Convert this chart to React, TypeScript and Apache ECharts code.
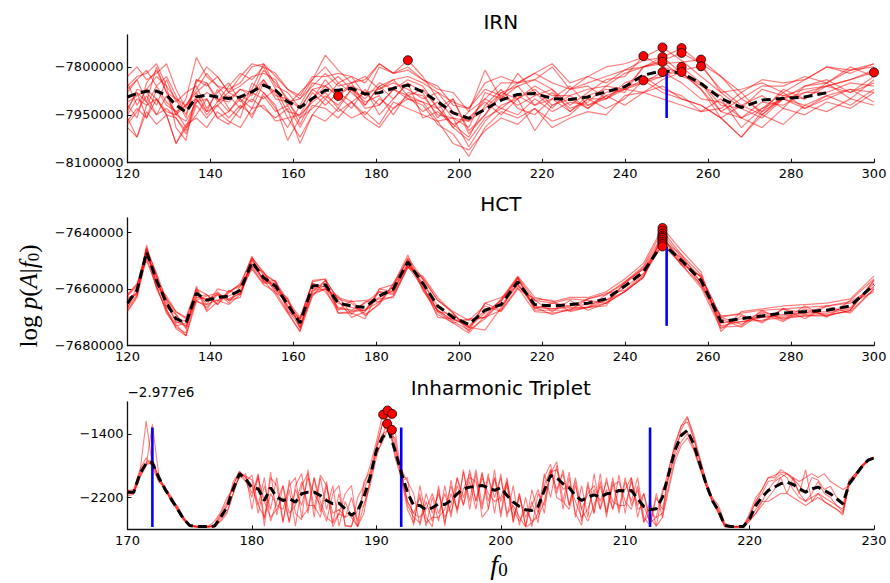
import React, { useEffect, useRef } from 'react';
import * as echarts from 'echarts';

// ---------- Shared f0 grid for IRN and HCT panels ----------
const F0 = [120, 122.3, 124.6, 127, 129.4, 131.7, 134.1, 136.6, 139.1, 141.7,
  144.4, 147.2, 150, 152.8, 155.7, 158.6, 161.6, 164.6, 167.7, 170.8,
  174, 177.3, 180.7, 184.1, 187.6, 191.2, 194.8, 198.5, 202.3, 206.2,
  210.1, 214.1, 218.2, 222.4, 226.7, 231, 235.4, 239.9, 244.4, 249,
  253.6, 258.3, 263.1, 268, 273, 278.1, 283.3, 288.6, 294.3, 300];

// ---------- IRN (values in thousands) ----------
const IRN_MEAN = [-7894, -7883, -7876, -7876, -7888, -7920, -7941, -7894, -7888, -7894,
  -7899, -7894, -7878, -7857, -7873, -7909, -7927, -7899, -7873, -7873,
  -7867, -7885, -7881, -7867, -7857, -7878, -7909, -7944, -7961, -7933,
  -7904, -7886, -7883, -7899, -7902, -7894, -7878, -7862, -7826, -7812,
  -7819, -7852, -7899, -7927, -7904, -7899, -7894, -7881, null, null];
const IRN_1 = [-7850, -7920, -7870, -7830, -7860, -7990, -8030, -7880, -7940, -7870,
  -7930, -7960, -7850, -7880, -7930, -7990, -7920, -7850, -7860, -7891,
  -7930, -7870, -7950, -7900, -7850, -7960, -7940, -7980, -8020, -7920,
  -7870, -7930, -7950, -7900, -7860, -7920, -7890, -7920, -7880, -7900,
  -7920, -7940, -7900, -7990, -7930, -7880, -7930, -7900, -7870, -7910];
const IRN_2 = [-7920, -7960, -7850, -7810, -7880, -7900, -7960, -7840, -7850, -7910,
  -7860, -7820, -7840, -7800, -7870, -7920, -7880, -7840, -7800, -7850,
  -7830, -7890, -7800, -7820, -7779, -7830, -7900, -7960, -7990, -7880,
  -7900, -7820, -7880, -7930, -7870, -7860, -7900, -7850, -7830, -7870,
  -7890, -7940, -7930, -7880, -7950, -7900, -7860, -7840, -7880, -7830];
const IRN_3 = [-7880, -7840, -7910, -7800, -7880, -7950, -7900, -7770, -7830, -7860,
  -7900, -7870, -7890, -7810, -7850, -7900, -7980, -7900, -7860, -7830,
  -7870, -7900, -7850, -7870, -7840, -7860, -7930, -7900, -8000, -7950,
  -7880, -7860, -7840, -7870, -7920, -7880, -7840, -7830, -7766, -7800,
  -7820, -7870, -7960, -7920, -7890, -7930, -7860, -7850, -7800, -7830];
const IRN_4 = [-7960, -8020, -7920, -7900, -7950, -8040, -7990, -7950, -7900, -7960,
  -7980, -7930, -7900, -7930, -7960, -7930, -8040, -7950, -7900, -7940,
  -7910, -7960, -7990, -7930, -7900, -7920, -7980, -8010, -8080, -7990,
  -7940, -7960, -7930, -7970, -7950, -7900, -7930, -7900, -7842, -7880,
  -7900, -7920, -7960, -8020, -7950, -7980, -7920, -7940, -7900, -7920];
const IRN_5 = [-7830, -7800, -7840, -7820, -7790, -7870, -7930, -7850, -7800, -7830,
  -7880, -7830, -7790, -7800, -7820, -7870, -7900, -7840, -7763, -7810,
  -7850, -7840, -7790, -7820, -7800, -7840, -7860, -7920, -7930, -7850,
  -7830, -7850, -7820, -7790, -7850, -7830, -7800, -7790, -7770, -7739,
  -7780, -7830, -7880, -7870, -7850, -7880, -7840, -7800, -7820, -7790];
const IRN_6 = [-7900, -7880, -7960, -7870, -7920, -7940, -7990, -7900, -7950, -7910,
  -7880, -7900, -7930, -7850, -7880, -7960, -7950, -7910, -7880, -7930,
  -7870, -7910, -7890, -7950, -7880, -7890, -7950, -7960, -7970, -7900,
  -7930, -7890, -7920, -7900, -7940, -7890, -7870, -7880, -7800, -7769,
  -7820, -7860, -7890, -7960, -7910, -7920, -7880, -7880, -7850, -7860];
const IRN_7 = [-7940, -7870, -7880, -7920, -7840, -7910, -7880, -7860, -7930, -7880,
  -7850, -7910, -7870, -7790, -7860, -7880, -7930, -7870, -7900, -7850,
  -7880, -7920, -7860, -7840, -7890, -7870, -7930, -7990, -7940, -7810,
  -7900, -7860, -7920, -7880, -7930, -7910, -7860, -7870, -7800, -7784,
  -7830, -7850, -7940, -7900, -7940, -7870, -7900, -7850, -7900, -7840];
const IRN_8 = [-7980, -7940, -7890, -7950, -7930, -7960, -8000, -7910, -7900, -7960,
  -7940, -7900, -7960, -7880, -7920, -8030, -7960, -7930, -7890, -7920,
  -7870, -7930, -7920, -7870, -7900, -7910, -7970, -7960, -8050, -7970,
  -7920, -7900, -8000, -7920, -7890, -7930, -7890, -7870, -7850, -7816,
  -7850, -7900, -7910, -7960, -7930, -7900, -7930, -7890, -7920, -7870];
const IRN_9 = [-7870, -7840, -7810, -7860, -7830, -7890, -7950, -7840, -7860, -7830,
  -7880, -7860, -7830, -7820, -7840, -7910, -7900, -7860, -7820, -7860,
  -7850, -7830, -7870, -7840, -7830, -7850, -7880, -7910, -7930, -7870,
  -7890, -7850, -7820, -7850, -7870, -7830, -7850, -7810, -7780, -7770,
  -7741, -7790, -7830, -7900, -7860, -7860, -7830, -7850, -7810, -7800];
const IRN_10 = [-7910, -7890, -7870, -7900, -7940, -7950, -7970, -7910, -7880, -7900,
  -7910, -7870, -7880, -7840, -7890, -7900, -7930, -7870, -7860, -7890,
  -7860, -7880, -7870, -7850, -7870, -7900, -7880, -7940, -7970, -7930,
  -7880, -7900, -7860, -7890, -7890, -7870, -7860, -7820, -7800, -7780,
  -7756, -7790, -7880, -7930, -7870, -7890, -7870, -7860, -7840, -7810];
const IRN_11 = [-7950, -7900, -7920, -7860, -7910, -7940, -7920, -7880, -7850, -7900,
  -7940, -7890, -7910, -7840, -7900, -7910, -7960, -7900, -7840, -7890,
  -7850, -7920, -7860, -7900, -7850, -7880, -7960, -7900, -8010, -7950,
  -7890, -7920, -7890, -7870, -7940, -7900, -7900, -7860, -7850, -7830,
  -7800, -7850, -7920, -7930, -7960, -7900, -7920, -7890, -7870, -7880];
const IRN_12 = [-7990, -8020, -7940, -7980, -7950, -8040, -7980, -7960, -7990, -7940,
  -7970, -7990, -7930, -7920, -7970, -7960, -8020, -7950, -7970, -7930,
  -7960, -7940, -7980, -7910, -7930, -7950, -7970, -8040, -8060, -8000,
  -7960, -7980, -7930, -7990, -7960, -7940, -7950, -7890, -7880, -7840,
  -7816, -7870, -7940, -7960, -7990, -7930, -7950, -7910, -7930, -7880];
const IRN_13 = [-7860, -7830, -7820, -7790, -7860, -7900, -7920, -7870, -7820, -7860,
  -7870, -7850, -7800, -7790, -7830, -7870, -7890, -7830, -7830, -7820,
  -7830, -7850, -7790, -7820, -7810, -7840, -7870, -7880, -7940, -7900,
  -7850, -7850, -7840, -7800, -7870, -7850, -7830, -7810, -7800, -7790,
  -7785, -7777, -7830, -7880, -7840, -7850, -7840, -7800, -7810, -7790];
const IRN_14 = [-7930, -7880, -7910, -7950, -7890, -7950, -7920, -7900, -7940, -7920,
  -7890, -7930, -7880, -7900, -7870, -7940, -7950, -7880, -7920, -7880,
  -7910, -7880, -7920, -7870, -7890, -7910, -7930, -7980, -7960, -7910,
  -7950, -7900, -7870, -7920, -7900, -7930, -7880, -7870, -7840, -7830,
  -7810, -7798, -7870, -7920, -7950, -7890, -7900, -7860, -7880, -7850];
const IRN_15 = [-7970, -7930, -7960, -7900, -7950, -7960, -8010, -7920, -7960, -7920,
  -7960, -7920, -7950, -7890, -7940, -7920, -7990, -7920, -7930, -7960,
  -7910, -7950, -7900, -7930, -7890, -7940, -7910, -7990, -8030, -7960,
  -7930, -7950, -7900, -7940, -7910, -7920, -7900, -7870, -7880, -7860,
  -7900, -7920, -7960, -8020, -7940, -7900, -7880, -7860, -7840, -7817];
const IRN_LINES = [IRN_1, IRN_2, IRN_3, IRN_4, IRN_5, IRN_6, IRN_7, IRN_8, IRN_9, IRN_10,
  IRN_11, IRN_12, IRN_13, IRN_14, IRN_15];
const IRN_PEAK_F = [170.8, 187.6, 244.4, 244.4, 249, 249, 249, 249, 253.6, 253.6, 253.6, 253.6, 258.3, 258.3, 300];
const IRN_PEAK_V = [-7891, -7779, -7766, -7842, -7739, -7769, -7784, -7816, -7741, -7756, -7800, -7816, -7777, -7798, -7817];
const IRN_TRUE_F = 250;
const IRN_TRUE_RANGE = [-7815, -7960];
const IRN_YTICKS = [-8100000, -7950000, -7800000];

// ---------- HCT (values in thousands) ----------
const HCT_MEAN = [-7665.0, -7660.5, -7647.0, -7657.0, -7665.0, -7670.5, -7672.0, -7661.5, -7664.0, -7663.0,
  -7662.5, -7660.5, -7650.5, -7656.0, -7659.0, -7665.5, -7672.0, -7659.0, -7658.5, -7665.0,
  -7666.0, -7666.5, -7662.5, -7660.0, -7650.5, -7658.0, -7666.0, -7670.0, -7672.5, -7667.5,
  -7665.5, -7657.5, -7665.5, -7666.0, -7665.5, -7665.0, -7663.5, -7659.0, -7654.0, -7644.0,
  -7650.0, -7657.0, -7671.5, -7670.5, -7669.5, -7668.5, -7668.0, -7667.5, -7666.0, -7658.5];
const HCT_1 = [-7667.5, -7662.5, -7644.5, -7659.0, -7668.0, -7673.5, -7675.5, -7659.0, -7667.5, -7661.0,
  -7665.0, -7659.0, -7648.5, -7657.5, -7657.0, -7668.0, -7675.0, -7657.0, -7656.5, -7668.5,
  -7668.5, -7670.5, -7660.0, -7658.5, -7648.0, -7660.0, -7669.0, -7672.0, -7675.5, -7669.5,
  -7663.5, -7655.5, -7663.0, -7664.5, -7663.0, -7663.0, -7661.0, -7656.5, -7651.0, -7638.5,
  -7646.5, -7654.0, -7675.0, -7668.0, -7667.0, -7666.0, -7665.5, -7665.0, -7663.5, -7655.5];
const HCT_2 = [-7662.5, -7659.0, -7645.5, -7655.0, -7667.5, -7672.5, -7676.5, -7663.0, -7662.0, -7665.5,
  -7660.5, -7662.0, -7652.0, -7654.0, -7661.5, -7663.5, -7674.0, -7661.5, -7660.0, -7662.5,
  -7669.0, -7664.5, -7664.5, -7662.5, -7652.5, -7656.0, -7664.0, -7668.5, -7675.0, -7665.0,
  -7667.5, -7659.5, -7668.0, -7668.5, -7667.5, -7663.5, -7662.0, -7657.5, -7652.0, -7639.5,
  -7648.0, -7655.0, -7673.5, -7673.0, -7667.5, -7671.0, -7666.0, -7670.0, -7664.0, -7656.5];
const HCT_3 = [-7668.0, -7663.0, -7649.0, -7659.5, -7662.5, -7668.0, -7670.0, -7660.0, -7668.0, -7664.5,
  -7661.0, -7658.5, -7653.0, -7658.5, -7661.0, -7668.0, -7670.5, -7661.0, -7657.0, -7667.5,
  -7664.0, -7669.0, -7665.5, -7658.0, -7649.5, -7660.5, -7668.0, -7672.0, -7670.5, -7670.0,
  -7664.0, -7656.0, -7664.0, -7668.0, -7664.0, -7667.5, -7665.0, -7661.0, -7656.0, -7640.5,
  -7649.0, -7659.0, -7669.5, -7669.0, -7672.0, -7667.0, -7670.5, -7666.0, -7668.5, -7660.0];
const HCT_4 = [-7662.0, -7658.5, -7648.5, -7655.5, -7666.5, -7669.0, -7673.5, -7664.0, -7662.5, -7661.5,
  -7664.0, -7663.0, -7649.0, -7654.5, -7657.5, -7664.0, -7670.0, -7658.0, -7661.0, -7667.0,
  -7667.5, -7665.0, -7661.0, -7662.0, -7652.0, -7656.5, -7664.0, -7668.0, -7671.0, -7666.0,
  -7668.0, -7660.0, -7663.5, -7664.0, -7668.0, -7666.5, -7662.0, -7658.0, -7652.5, -7641.2,
  -7651.0, -7655.5, -7670.0, -7672.5, -7668.0, -7670.5, -7669.5, -7669.5, -7667.5, -7657.0];
const HCT_5 = [-7666.5, -7662.0, -7645.5, -7660.0, -7667.0, -7674.0, -7676.5, -7664.5, -7665.5, -7660.0,
  -7661.0, -7659.0, -7652.0, -7657.0, -7662.0, -7668.5, -7675.0, -7662.5, -7657.0, -7663.5,
  -7665.0, -7669.5, -7665.0, -7659.0, -7649.5, -7659.5, -7667.5, -7671.5, -7674.5, -7670.5,
  -7664.5, -7656.5, -7667.0, -7665.0, -7663.5, -7664.0, -7665.0, -7661.0, -7656.0, -7642.0,
  -7651.5, -7659.5, -7674.0, -7669.5, -7671.5, -7667.0, -7666.5, -7666.0, -7665.0, -7661.0];
const HCT_6 = [-7663.5, -7661.5, -7648.0, -7656.0, -7663.5, -7669.0, -7674.0, -7660.5, -7665.5, -7664.0,
  -7665.5, -7662.0, -7649.5, -7657.5, -7658.0, -7664.5, -7671.0, -7657.5, -7656.5, -7664.0,
  -7670.0, -7668.0, -7660.0, -7661.0, -7649.0, -7656.5, -7668.0, -7669.0, -7673.5, -7668.5,
  -7664.0, -7656.0, -7666.5, -7669.0, -7667.0, -7666.5, -7666.0, -7657.5, -7653.0, -7642.8,
  -7648.0, -7658.0, -7670.5, -7673.5, -7668.5, -7671.5, -7667.0, -7669.5, -7667.5, -7657.0];
const HCT_7 = [-7667.0, -7659.0, -7646.0, -7654.5, -7664.0, -7672.0, -7671.0, -7660.0, -7662.0, -7665.5,
  -7661.5, -7658.0, -7649.0, -7654.0, -7660.5, -7663.0, -7673.5, -7662.0, -7660.0, -7663.0,
  -7664.5, -7664.0, -7663.5, -7663.0, -7652.0, -7655.5, -7663.0, -7668.5, -7674.0, -7665.0,
  -7663.0, -7659.0, -7664.0, -7665.0, -7666.0, -7663.5, -7661.5, -7660.5, -7655.0, -7643.5,
  -7651.5, -7655.5, -7670.0, -7668.5, -7667.5, -7667.0, -7668.5, -7666.0, -7664.5, -7659.5];
const HCT_8 = [-7662.0, -7658.0, -7650.0, -7659.0, -7668.5, -7673.0, -7672.0, -7664.0, -7666.5, -7662.0,
  -7663.5, -7661.5, -7652.5, -7658.0, -7658.0, -7667.0, -7673.5, -7660.5, -7660.0, -7668.5,
  -7668.0, -7667.5, -7664.5, -7658.5, -7652.0, -7659.5, -7667.5, -7671.0, -7671.0, -7670.0,
  -7667.5, -7656.0, -7667.5, -7667.5, -7667.5, -7666.5, -7664.0, -7661.0, -7655.5, -7644.2,
  -7651.5, -7658.5, -7673.0, -7671.5, -7671.0, -7670.0, -7669.5, -7669.0, -7668.0, -7660.0];
const HCT_9 = [-7663.0, -7662.0, -7646.5, -7658.0, -7663.5, -7668.0, -7670.5, -7663.0, -7663.5, -7662.0,
  -7664.0, -7661.5, -7650.0, -7655.0, -7657.5, -7666.0, -7670.5, -7658.0, -7659.5, -7666.5,
  -7667.5, -7667.5, -7661.0, -7661.5, -7651.0, -7658.5, -7670.0, -7670.5, -7673.5, -7674.5,
  -7666.5, -7658.5, -7666.5, -7667.0, -7666.5, -7666.5, -7665.0, -7658.0, -7653.0, -7645.0,
  -7649.0, -7656.0, -7672.0, -7671.5, -7670.0, -7669.5, -7669.0, -7668.5, -7667.0, -7658.0];
const HCT_10 = [-7665.5, -7661.0, -7646.5, -7657.5, -7665.0, -7671.5, -7673.0, -7662.0, -7664.0, -7664.0,
  -7662.5, -7660.5, -7651.0, -7656.5, -7660.0, -7666.0, -7672.5, -7660.0, -7659.0, -7665.0,
  -7666.5, -7667.5, -7663.0, -7660.5, -7651.0, -7658.0, -7666.0, -7670.5, -7673.0, -7667.5,
  -7666.0, -7658.0, -7666.0, -7667.0, -7666.0, -7665.5, -7664.0, -7659.5, -7654.5, -7641.8,
  -7650.0, -7657.5, -7672.0, -7670.5, -7670.0, -7669.0, -7668.5, -7668.0, -7666.5, -7659.0];
const HCT_LINES = [HCT_1, HCT_2, HCT_3, HCT_4, HCT_5, HCT_6, HCT_7, HCT_8, HCT_9, HCT_10];
const HCT_PEAK_F = 249;
const HCT_PEAK_V = [-7638.5, -7639.5, -7640.5, -7641.2, -7641.8, -7642.0, -7642.8, -7643.5, -7644.2, -7645.0];
const HCT_TRUE_F = 250;
const HCT_TRUE_RANGE = [-7645, -7673];
const HCT_YTICKS = [-7680000, -7660000, -7640000];

// ---------- Inharmonic Triplet (values relative to offset -2.977e6) ----------
const TRIP_F = [170, 170.5, 171, 171.5, 172, 172.5, 173, 173.5, 174, 174.5,
  175, 175.5, 176, 176.5, 177, 177.5, 178, 178.5, 179, 179.5,
  180, 180.5, 181, 181.5, 182, 182.5, 183, 183.5, 184, 184.5,
  185, 185.5, 186, 186.5, 187, 187.5, 188, 188.5, 189, 189.5,
  190, 190.5, 191, 191.5, 192, 192.5, 193, 193.5, 194, 194.5,
  195, 195.5, 196, 196.5, 197, 197.5, 198, 198.5, 199, 199.5,
  200, 200.5, 201, 201.5, 202, 202.5, 203, 203.5, 204, 204.5,
  205, 205.5, 206, 206.5, 207, 207.5, 208, 208.5, 209, 209.5,
  210, 210.5, 211, 211.5, 212, 212.5, 213, 213.5, 214, 214.5,
  215, 215.5, 216, 216.5, 217, 217.5, 218, 218.5, 219, 219.5,
  220, 220.5, 221, 221.5, 222, 222.5, 223, 223.5, 224, 224.5,
  225, 225.5, 226, 226.5, 227, 227.5, 228, 228.5, 229, 229.5, 230];
const TRIP_MEAN = [-2133, -2133, -1902, -1769, -1760, -1945, -2091, -2216, -2342, -2468,
  -2552, -2565, -2565, -2565, -2560, -2447, -2322, -2091, -1902, -1965,
  -2078, -2091, -2238, -2078, -2196, -2238, -2216, -2258, -2154, -2133,
  -2133, -2175, -2238, -2279, -2271, -2342, -2426, -2363, -2196, -1945,
  -1610, -1443, -1360, -1610, -1882, -2133, -2301, -2301, -2355, -2330,
  -2279, -2288, -2238, -2154, -2091, -2070, -2062, -2049, -2078, -2112,
  -2078, -2175, -2258, -2313, -2355, -2363, -2313, -2112, -1924, -1953,
  -2028, -2078, -2175, -2238, -2196, -2167, -2196, -2154, -2146, -2112,
  -2120, -2112, -2216, -2313, -2355, -2342, -2196, -1902, -1610, -1421,
  -1358, -1526, -1777, -2028, -2238, -2363, -2552, -2565, -2565, -2565,
  -2468, -2301, -2196, -2112, -2070, -2028, -2007, -2037, -2091, -2133,
  -2091, -2070, -2112, -2154, -2216, -2279, -2028, -1924, -1819, -1735, -1701];
const TRIP_1 = [-2150, -2110, -1880, -1240, -1800, -1960, -2060, -2240, -2360, -2480,
  -2560, -2570, -2570, -2570, -2540, -2400, -2250, -2050, -1880, -1990,
  -2200, -1900, -2480, -1880, -2420, -2050, -2520, -2050, -1900, -2400,
  -1950, -2380, -2000, -2520, -2150, -2560, -2570, -2200, -2050, -1800,
  -1500, -1160, -1250, -1700, -1950, -2350, -2520, -2150, -2560, -2200,
  -2500, -2050, -2450, -1950, -2300, -1850, -2250, -1880, -2350, -1950,
  -2400, -1950, -2500, -2150, -2560, -2250, -2520, -1950, -1780, -2150,
  -1850, -2300, -2000, -2500, -2050, -2400, -2000, -2380, -1950, -2350,
  -1950, -2300, -2100, -2520, -2250, -2560, -2150, -1850, -1520, -1300,
  -1250, -1450, -1720, -2000, -2200, -2400, -2570, -2570, -2570, -2560,
  -2400, -2200, -2100, -1950, -1920, -1880, -1900, -1960, -2050, -2150,
  -1950, -1980, -2100, -2060, -2200, -2300, -2000, -1900, -1800, -1720, -1690];
const TRIP_2 = [-2180, -2160, -1950, -1800, -1280, -1900, -2120, -2200, -2320, -2450,
  -2550, -2570, -2570, -2560, -2570, -2480, -2380, -2150, -1920, -1930,
  -1980, -2400, -2050, -2350, -1950, -2500, -2100, -2560, -2050, -1900,
  -2450, -1950, -2350, -2050, -2560, -2250, -2450, -2570, -2300, -2050,
  -1700, -1450, -1110, -1550, -1850, -2000, -2150, -2550, -2250, -2500,
  -2100, -2520, -2150, -2350, -1880, -2250, -1850, -2300, -1900, -2400,
  -1900, -2450, -2050, -2550, -2200, -2570, -2150, -2300, -1900, -1750,
  -2250, -1880, -2450, -2050, -2450, -1900, -2350, -1950, -2350, -1920,
  -2400, -1950, -2450, -2150, -2550, -2200, -2350, -1950, -1650, -1350,
  -1200, -1400, -1700, -1980, -2250, -2400, -2560, -2570, -2570, -2570,
  -2500, -2400, -2300, -2200, -2100, -1950, -2150, -1950, -2150, -1850,
  -2250, -2150, -2250, -2300, -2350, -2420, -2050, -1920, -1830, -1740, -1700];
const TRIP_3 = [-2100, -2150, -1920, -1760, -1720, -1980, -2100, -2200, -2350, -2470,
  -2560, -2560, -2570, -2570, -2560, -2420, -2300, -2050, -1870, -1950,
  -2150, -1950, -2250, -2450, -2350, -2200, -2500, -2100, -2300, -1950,
  -2150, -2300, -2500, -2150, -2050, -2550, -2560, -2350, -2300, -2000,
  -1600, -1260, -1170, -1650, -1900, -2250, -2400, -2200, -2520, -2450,
  -2450, -2350, -2050, -2350, -2100, -1900, -2250, -1950, -2150, -2250,
  -2200, -2000, -2350, -2500, -2350, -2500, -2450, -2250, -1880, -1850,
  -2100, -2050, -2250, -2450, -2350, -2100, -2350, -2100, -2350, -2100,
  -2100, -1950, -2350, -2300, -2520, -2450, -2100, -1950, -1580, -1400,
  -1380, -1550, -1800, -2050, -2250, -2350, -2540, -2570, -2560, -2570,
  -2450, -2250, -2150, -2000, -1980, -1900, -1950, -2100, -2200, -2250,
  -2150, -2000, -2150, -2200, -2300, -2350, -1980, -1900, -1800, -1730, -1700];
const TRIP_4 = [-2120, -2100, -1850, -1700, -1820, -2000, -2080, -2250, -2300, -2460,
  -2550, -2570, -2560, -2560, -2500, -2380, -2200, -2100, -1950, -1900,
  -2350, -1920, -2560, -1950, -2050, -2520, -1980, -2400, -2480, -1850,
  -2350, -1920, -2050, -2570, -2400, -2150, -2050, -2570, -2000, -1880,
  -1550, -1270, -1400, -1450, -2000, -1950, -2550, -2050, -2450, -2570,
  -2050, -2560, -1980, -2400, -1850, -2350, -1900, -2450, -2350, -1850,
  -2450, -2000, -2520, -2150, -2570, -2100, -2400, -1900, -2200, -1800,
  -2350, -1950, -2400, -2550, -2000, -2400, -1900, -2450, -2000, -2400,
  -2000, -2250, -1950, -2450, -2550, -2150, -2450, -1850, -1550, -1300,
  -1180, -1450, -1750, -2050, -2200, -2300, -2520, -2570, -2570, -2570,
  -2420, -2250, -2100, -1950, -1950, -1850, -1900, -1950, -2000, -1950,
  -1900, -1950, -1900, -2000, -2050, -2100, -2050, -1950, -1820, -1740, -1710];
const TRIP_5 = [-2160, -2140, -1940, -1790, -1760, -1930, -2100, -2230, -2340, -2480,
  -2560, -2570, -2570, -2570, -2570, -2500, -2400, -2150, -1920, -2000,
  -1920, -2300, -2450, -2150, -2300, -2350, -2050, -1950, -2450, -2350,
  -1950, -2250, -2450, -2520, -2400, -2450, -2200, -2500, -2100, -1900,
  -1650, -1500, -1300, -1350, -1900, -2300, -2450, -2520, -2150, -2400,
  -2150, -2450, -2300, -1950, -2200, -1950, -2000, -2350, -1950, -2200,
  -1950, -2400, -2300, -2450, -2570, -2520, -2400, -2050, -1850, -2100,
  -1900, -2300, -1950, -2350, -2500, -2300, -2050, -2400, -2050, -2000,
  -2250, -2350, -2050, -2500, -2400, -2450, -2400, -2050, -1700, -1500,
  -1400, -1580, -1820, -2050, -2250, -2350, -2560, -2570, -2570, -2560,
  -2480, -2400, -2250, -2250, -2200, -2150, -2150, -2200, -2250, -2300,
  -2250, -2200, -2250, -2300, -2350, -2400, -2000, -1930, -1810, -1730, -1700];
const TRIP_6 = [-2120, -2140, -1900, -1780, -1740, -1950, -2080, -2180, -2330, -2450,
  -2540, -2560, -2570, -2570, -2550, -2450, -2300, -2000, -1880, -1950,
  -2050, -2300, -1950, -2500, -2250, -2050, -2400, -2300, -2000, -2300,
  -2300, -2450, -2050, -2400, -2350, -2450, -2400, -2560, -2400, -1980,
  -1580, -1400, -1350, -1600, -1880, -2250, -2400, -2450, -2350, -2150,
  -2400, -2150, -2400, -2050, -2300, -2000, -2350, -1900, -2250, -1950,
  -2250, -2050, -2450, -2200, -2450, -2300, -2100, -2400, -1850, -2200,
  -2250, -2350, -2050, -2350, -2150, -2050, -2250, -2000, -2250, -2300,
  -2300, -2000, -2300, -2150, -2450, -2560, -2450, -2100, -1750, -1550,
  -1450, -1600, -1830, -2030, -2230, -2380, -2550, -2560, -2570, -2560,
  -2470, -2350, -2250, -2100, -2000, -1950, -1900, -1980, -2150, -2250,
  -2200, -2150, -2200, -2250, -2300, -2380, -2020, -1940, -1820, -1740, -1700];
const TRIP_LINES = [TRIP_1, TRIP_2, TRIP_3, TRIP_4, TRIP_5, TRIP_6];
const TRIP_PEAK_F = [190.55, 190.9, 191.27, 190.87, 191.25];
const TRIP_PEAK_V = [-1158, -1107, -1149, -1274, -1350];
const TRIP_TRUE_F = [172, 192, 212];
const TRIP_TRUE_RANGE = [-1320, -2570];
const TRIP_YTICKS = [-2200, -1400];

// ---------- styling ----------
const RED = 'rgba(255,0,0,0.5)';
const TICK_FONT = 'DejaVu Sans';

function pairs(xs: number[], ys: (number | null)[], k: number) {
  const out: number[][] = [];
  for (let i = 0; i < xs.length; i++) {
    const y = ys[i];
    if (y !== null && y !== undefined) out.push([xs[i], y * k]);
  }
  return out;
}

function minusFmt(v: number) {
  return (v < 0 ? '\u2212' : '') + String(Math.abs(v));
}

function xAxisCfg(gridIndex: number, min: number, max: number, interval: number) {
  return {
    type: 'value', gridIndex, min, max, interval,
    axisLine: { show: true, onZero: false, lineStyle: { color: '#111', width: 1.3 } },
    axisTick: { show: true, inside: true, length: 4, lineStyle: { color: '#111', width: 1 } },
    axisLabel: { color: '#000', fontFamily: TICK_FONT, fontSize: 13, margin: 6, lineHeight: 10, showMinLabel: true, showMaxLabel: true },
    splitLine: { show: false },
  };
}

function yAxisCfg(gridIndex: number, min: number, max: number, ticks: number[]) {
  return {
    type: 'value', gridIndex, min, max,
    axisLine: { show: true, onZero: false, lineStyle: { color: '#111', width: 1.3 } },
    axisTick: { show: true, inside: true, length: 4, customValues: ticks, lineStyle: { color: '#111', width: 1 } },
    axisLabel: { color: '#000', fontFamily: TICK_FONT, fontSize: 13, margin: 4, lineHeight: 10, padding: [0, 0, 3, 0], customValues: ticks, formatter: minusFmt },
    splitLine: { show: false },
  };
}

function redSeries(xs: number[], lines: number[][], k: number, idx: number, w: number) {
  return lines.map((ys) => ({
    type: 'line', xAxisIndex: idx, yAxisIndex: idx, data: pairs(xs, ys, k),
    symbol: 'none', silent: true, z: 2,
    lineStyle: { color: RED, width: w },
  }));
}

function meanSeries(xs: number[], ys: (number | null)[], k: number, idx: number) {
  return {
    type: 'line', xAxisIndex: idx, yAxisIndex: idx, data: pairs(xs, ys, k),
    symbol: 'none', silent: true, z: 4,
    lineStyle: { color: '#000', width: 3, type: [9, 5] },
  };
}

function trueSeries(f: number, range: number[], k: number, idx: number) {
  return {
    type: 'line', xAxisIndex: idx, yAxisIndex: idx,
    data: [[f, range[0] * k], [f, range[1] * k]],
    symbol: 'none', silent: true, z: 3,
    lineStyle: { color: '#0000ff', width: 2.6 },
  };
}

function dotSeries(fs: number[], vs: number[], k: number, idx: number) {
  return {
    type: 'scatter', xAxisIndex: idx, yAxisIndex: idx,
    data: vs.map((v, i) => [fs[i], v * k]),
    symbol: 'circle', symbolSize: 9, silent: true, z: 5,
    itemStyle: { color: '#ff0000', borderColor: '#000', borderWidth: 0.8, opacity: 1 },
  };
}

function titleText(text: string, y: number) {
  return {
    type: 'text', x: 500.75, y,
    style: { text, fill: '#000', fontFamily: 'DejaVu Sans', fontSize: 20, align: 'center', verticalAlign: 'middle', textAlign: 'center', textVerticalAlign: 'middle' },
  };
}

const MATH = 'Liberation Serif';

export default function App() {
  const ref = useRef<HTMLDivElement>(null);
  useEffect(() => {
    if (!ref.current) return;
    const chart = echarts.init(ref.current, undefined, { renderer: 'svg' });
    const series: any[] = [
      ...redSeries(F0, IRN_LINES, 1000, 0, 1.2),
      trueSeries(IRN_TRUE_F, IRN_TRUE_RANGE, 1000, 0),
      meanSeries(F0, IRN_MEAN, 1000, 0),
      dotSeries(IRN_PEAK_F, IRN_PEAK_V, 1000, 0),

      ...redSeries(F0, HCT_LINES, 1000, 1, 1.2),
      trueSeries(HCT_TRUE_F, HCT_TRUE_RANGE, 1000, 1),
      meanSeries(F0, HCT_MEAN, 1000, 1),
      dotSeries(HCT_PEAK_V.map(() => HCT_PEAK_F), HCT_PEAK_V, 1000, 1),

      ...redSeries(TRIP_F, TRIP_LINES, 1, 2, 1.1),
      ...TRIP_TRUE_F.map((f) => trueSeries(f, TRIP_TRUE_RANGE, 1, 2)),
      meanSeries(TRIP_F, TRIP_MEAN, 1, 2),
      dotSeries(TRIP_PEAK_F, TRIP_PEAK_V, 1, 2),
    ];
    const mathRich = (size: number) => ({
      n: { fontFamily: MATH, fontSize: size, fill: '#000', lineHeight: size + 2, verticalAlign: 'middle' },
      i: { fontFamily: MATH, fontSize: size, fontStyle: 'italic', fill: '#000', lineHeight: size + 2, verticalAlign: 'middle' },
      s: { fontFamily: MATH, fontSize: Math.round(size * 0.68), fill: '#000', lineHeight: Math.round(size * 0.5), verticalAlign: 'bottom' },
    });
    chart.setOption({
      animation: false,
      backgroundColor: '#fff',
      grid: [
        { left: 127.5, top: 35, width: 746.5, height: 127.7, outerBoundsMode: 'none' },
        { left: 127.5, top: 218, width: 746.5, height: 127.7, outerBoundsMode: 'none' },
        { left: 127.5, top: 402, width: 746.5, height: 127.3, outerBoundsMode: 'none' },
      ],
      xAxis: [
        xAxisCfg(0, 120, 300, 20),
        xAxisCfg(1, 120, 300, 20),
        xAxisCfg(2, 170, 230, 10),
      ],
      yAxis: [
        yAxisCfg(0, -8100000, -7700000, IRN_YTICKS),
        yAxisCfg(1, -7680000, -7635000, HCT_YTICKS),
        yAxisCfg(2, -2600, -1000, TRIP_YTICKS),
      ],
      series,
      graphic: [
        titleText('IRN', 21.7),
        titleText('HCT', 203.8),
        titleText('Inharmonic Triplet', 387.8),
        {
          type: 'text', x: 127.5, y: 392,
          style: { text: '\u22122.977e6', fill: '#000', fontFamily: TICK_FONT, fontSize: 13.5, align: 'left', verticalAlign: 'middle', textAlign: 'left', textVerticalAlign: 'middle' },
        },
        {
          type: 'text', x: 28, y: 296, rotation: Math.PI / 2,
          style: {
            text: '{n|log }{i|p}{n|(}{i|A}{n||}{i|f}{s|0}{n|)}',
            rich: mathRich(25), align: 'center', verticalAlign: 'middle', textAlign: 'center', textVerticalAlign: 'middle',
          },
        },
        {
          type: 'text', x: 499, y: 564,
          style: {
            text: '{i|f}{s|0}',
            rich: mathRich(28), align: 'center', verticalAlign: 'middle', textAlign: 'center', textVerticalAlign: 'middle',
          },
        },
      ],
    });
    return () => chart.dispose();
  }, []);
  return <div ref={ref} style={{ position: 'absolute', left: 0, top: 0, width: 890, height: 583 }} />;
}
